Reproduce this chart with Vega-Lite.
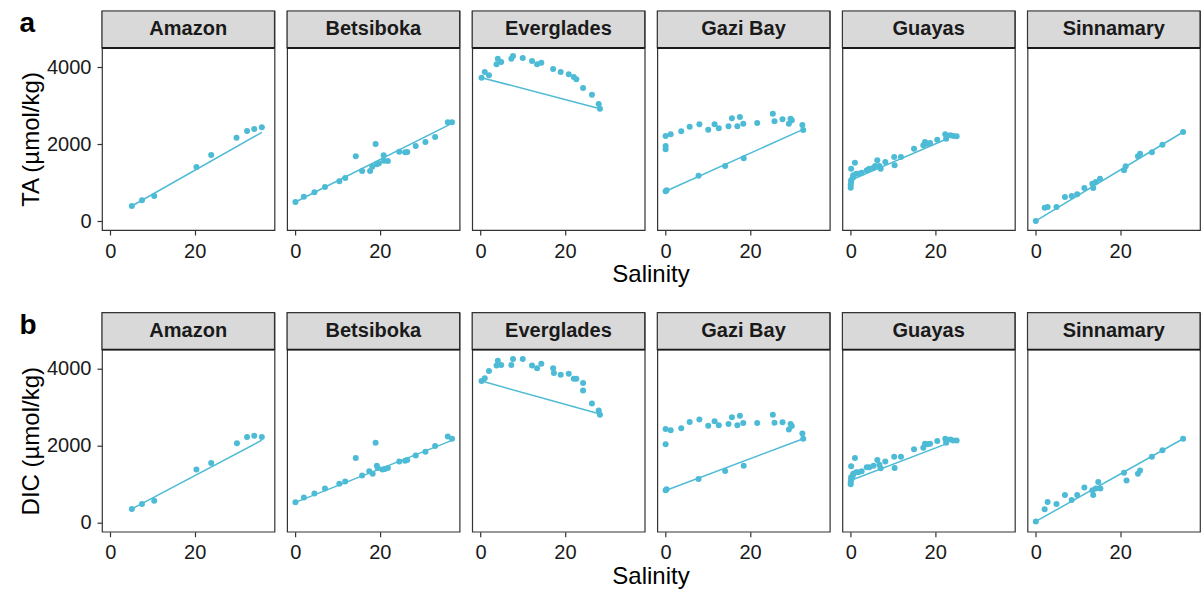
{
  "$schema": "https://vega.github.io/schema/vega-lite/v6.json",
  "padding": {"left": 19, "top": 9, "right": 0, "bottom": 0},
  "config": {
    "font": "Liberation Sans",
    "view": {"stroke": "#333333", "strokeWidth": 1.2},
    "axis": {"labelFontSize": 20, "labelColor": "#1a1a1a", "tickColor": "#333333", "tickSize": 5, "tickWidth": 1.2, "domain": false, "grid": false, "labelPadding": 6, "titleFontSize": 24, "titleFontWeight": "normal", "titleColor": "#000000"},
    "header": {"titleFontSize": 24, "titleFontWeight": "normal", "titleColor": "#000000", "titlePadding": -8}
  },
  "spacing": 23.7,
  "datasets": {
    "rows": [
      {"p":"TA","site":"Amazon","k":"obs","s":5.1,"v":397},
      {"p":"TA","site":"Amazon","k":"obs","s":7.5,"v":545},
      {"p":"TA","site":"Amazon","k":"obs","s":10.4,"v":657},
      {"p":"TA","site":"Amazon","k":"obs","s":20.4,"v":1410},
      {"p":"TA","site":"Amazon","k":"obs","s":23.9,"v":1722},
      {"p":"TA","site":"Amazon","k":"obs","s":29.9,"v":2171},
      {"p":"TA","site":"Amazon","k":"obs","s":32.4,"v":2345},
      {"p":"TA","site":"Amazon","k":"obs","s":34.1,"v":2397},
      {"p":"TA","site":"Amazon","k":"obs","s":35.9,"v":2442},
      {"p":"TA","site":"Amazon","k":"mix","s":5.1,"v":397},
      {"p":"TA","site":"Amazon","k":"mix","s":35.9,"v":2310},

      {"p":"TA","site":"Betsiboka","k":"obs","s":0,"v":501},
      {"p":"TA","site":"Betsiboka","k":"obs","s":2.0,"v":639},
      {"p":"TA","site":"Betsiboka","k":"obs","s":4.5,"v":753},
      {"p":"TA","site":"Betsiboka","k":"obs","s":7.0,"v":891},
      {"p":"TA","site":"Betsiboka","k":"obs","s":10.4,"v":1039},
      {"p":"TA","site":"Betsiboka","k":"obs","s":11.8,"v":1125},
      {"p":"TA","site":"Betsiboka","k":"obs","s":14.3,"v":1688},
      {"p":"TA","site":"Betsiboka","k":"obs","s":15.8,"v":1306},
      {"p":"TA","site":"Betsiboka","k":"obs","s":17.7,"v":1306},
      {"p":"TA","site":"Betsiboka","k":"obs","s":19.0,"v":2008},
      {"p":"TA","site":"Betsiboka","k":"obs","s":18.2,"v":1418},
      {"p":"TA","site":"Betsiboka","k":"obs","s":19.3,"v":1480},
      {"p":"TA","site":"Betsiboka","k":"obs","s":19.8,"v":1506},
      {"p":"TA","site":"Betsiboka","k":"obs","s":20.9,"v":1714},
      {"p":"TA","site":"Betsiboka","k":"obs","s":21.0,"v":1574},
      {"p":"TA","site":"Betsiboka","k":"obs","s":21.9,"v":1566},
      {"p":"TA","site":"Betsiboka","k":"obs","s":24.6,"v":1808},
      {"p":"TA","site":"Betsiboka","k":"obs","s":26.0,"v":1792},
      {"p":"TA","site":"Betsiboka","k":"obs","s":26.5,"v":1800},
      {"p":"TA","site":"Betsiboka","k":"obs","s":28.5,"v":1956},
      {"p":"TA","site":"Betsiboka","k":"obs","s":30.8,"v":2060},
      {"p":"TA","site":"Betsiboka","k":"obs","s":33.1,"v":2190},
      {"p":"TA","site":"Betsiboka","k":"obs","s":36.1,"v":2571},
      {"p":"TA","site":"Betsiboka","k":"obs","s":37.1,"v":2571},
      {"p":"TA","site":"Betsiboka","k":"mix","s":0,"v":501},
      {"p":"TA","site":"Betsiboka","k":"mix","s":36.5,"v":2510},

      {"p":"TA","site":"Everglades","k":"obs","s":0.24,"v":3730},
      {"p":"TA","site":"Everglades","k":"obs","s":1.0,"v":3878},
      {"p":"TA","site":"Everglades","k":"obs","s":2.0,"v":3792},
      {"p":"TA","site":"Everglades","k":"obs","s":3.8,"v":4078},
      {"p":"TA","site":"Everglades","k":"obs","s":4.1,"v":4224},
      {"p":"TA","site":"Everglades","k":"obs","s":4.9,"v":4138},
      {"p":"TA","site":"Everglades","k":"obs","s":7.3,"v":4224},
      {"p":"TA","site":"Everglades","k":"obs","s":7.7,"v":4294},
      {"p":"TA","site":"Everglades","k":"obs","s":10.0,"v":4242},
      {"p":"TA","site":"Everglades","k":"obs","s":12.2,"v":4164},
      {"p":"TA","site":"Everglades","k":"obs","s":13.4,"v":4078},
      {"p":"TA","site":"Everglades","k":"obs","s":14.4,"v":4120},
      {"p":"TA","site":"Everglades","k":"obs","s":17.2,"v":3956},
      {"p":"TA","site":"Everglades","k":"obs","s":19.0,"v":3878},
      {"p":"TA","site":"Everglades","k":"obs","s":20.9,"v":3818},
      {"p":"TA","site":"Everglades","k":"obs","s":22.1,"v":3748},
      {"p":"TA","site":"Everglades","k":"obs","s":22.7,"v":3688},
      {"p":"TA","site":"Everglades","k":"obs","s":24.3,"v":3462},
      {"p":"TA","site":"Everglades","k":"obs","s":26.4,"v":3288},
      {"p":"TA","site":"Everglades","k":"obs","s":28.0,"v":3047},
      {"p":"TA","site":"Everglades","k":"obs","s":28.3,"v":2925},
      {"p":"TA","site":"Everglades","k":"mix","s":0.24,"v":3730},
      {"p":"TA","site":"Everglades","k":"mix","s":28.3,"v":2925},

      {"p":"TA","site":"Gazi Bay","k":"obs","s":0,"v":2216},
      {"p":"TA","site":"Gazi Bay","k":"obs","s":1.2,"v":2260},
      {"p":"TA","site":"Gazi Bay","k":"obs","s":0,"v":1956},
      {"p":"TA","site":"Gazi Bay","k":"obs","s":0,"v":1870},
      {"p":"TA","site":"Gazi Bay","k":"obs","s":3.7,"v":2338},
      {"p":"TA","site":"Gazi Bay","k":"obs","s":5.7,"v":2458},
      {"p":"TA","site":"Gazi Bay","k":"obs","s":8.0,"v":2519},
      {"p":"TA","site":"Gazi Bay","k":"obs","s":10.1,"v":2380},
      {"p":"TA","site":"Gazi Bay","k":"obs","s":11.6,"v":2519},
      {"p":"TA","site":"Gazi Bay","k":"obs","s":12.6,"v":2416},
      {"p":"TA","site":"Gazi Bay","k":"obs","s":14.9,"v":2468},
      {"p":"TA","site":"Gazi Bay","k":"obs","s":15.7,"v":2675},
      {"p":"TA","site":"Gazi Bay","k":"obs","s":17.0,"v":2468},
      {"p":"TA","site":"Gazi Bay","k":"obs","s":17.6,"v":2709},
      {"p":"TA","site":"Gazi Bay","k":"obs","s":18.4,"v":2535},
      {"p":"TA","site":"Gazi Bay","k":"obs","s":21.7,"v":2553},
      {"p":"TA","site":"Gazi Bay","k":"obs","s":25.4,"v":2795},
      {"p":"TA","site":"Gazi Bay","k":"obs","s":25.8,"v":2597},
      {"p":"TA","site":"Gazi Bay","k":"obs","s":27.7,"v":2649},
      {"p":"TA","site":"Gazi Bay","k":"obs","s":29.2,"v":2535},
      {"p":"TA","site":"Gazi Bay","k":"obs","s":29.6,"v":2665},
      {"p":"TA","site":"Gazi Bay","k":"obs","s":29.9,"v":2623},
      {"p":"TA","site":"Gazi Bay","k":"obs","s":32.4,"v":2501},
      {"p":"TA","site":"Gazi Bay","k":"obs","s":32.6,"v":2371},
      {"p":"TA","site":"Gazi Bay","k":"obs","s":0,"v":779},
      {"p":"TA","site":"Gazi Bay","k":"obs","s":0.24,"v":805},
      {"p":"TA","site":"Gazi Bay","k":"obs","s":7.8,"v":1184},
      {"p":"TA","site":"Gazi Bay","k":"obs","s":14.1,"v":1436},
      {"p":"TA","site":"Gazi Bay","k":"obs","s":18.5,"v":1636},
      {"p":"TA","site":"Gazi Bay","k":"mix","s":0,"v":780},
      {"p":"TA","site":"Gazi Bay","k":"mix","s":32.6,"v":2386},

      {"p":"TA","site":"Guayas","k":"obs","s":0,"v":873},
      {"p":"TA","site":"Guayas","k":"obs","s":0,"v":951},
      {"p":"TA","site":"Guayas","k":"obs","s":0.1,"v":1021},
      {"p":"TA","site":"Guayas","k":"obs","s":0.1,"v":1065},
      {"p":"TA","site":"Guayas","k":"obs","s":0.5,"v":1134},
      {"p":"TA","site":"Guayas","k":"obs","s":0.1,"v":1366},
      {"p":"TA","site":"Guayas","k":"obs","s":1.0,"v":1522},
      {"p":"TA","site":"Guayas","k":"obs","s":1.3,"v":1236},
      {"p":"TA","site":"Guayas","k":"obs","s":1.8,"v":1236},
      {"p":"TA","site":"Guayas","k":"obs","s":2.6,"v":1262},
      {"p":"TA","site":"Guayas","k":"obs","s":3.8,"v":1325},
      {"p":"TA","site":"Guayas","k":"obs","s":5.4,"v":1392},
      {"p":"TA","site":"Guayas","k":"obs","s":6.3,"v":1584},
      {"p":"TA","site":"Guayas","k":"obs","s":6.8,"v":1436},
      {"p":"TA","site":"Guayas","k":"obs","s":7.1,"v":1366},
      {"p":"TA","site":"Guayas","k":"obs","s":8.2,"v":1540},
      {"p":"TA","site":"Guayas","k":"obs","s":10.3,"v":1670},
      {"p":"TA","site":"Guayas","k":"obs","s":10.4,"v":1454},
      {"p":"TA","site":"Guayas","k":"obs","s":11.9,"v":1670},
      {"p":"TA","site":"Guayas","k":"obs","s":15.0,"v":1886},
      {"p":"TA","site":"Guayas","k":"obs","s":17.2,"v":1974},
      {"p":"TA","site":"Guayas","k":"obs","s":17.6,"v":2060},
      {"p":"TA","site":"Guayas","k":"obs","s":18.2,"v":2016},
      {"p":"TA","site":"Guayas","k":"obs","s":18.8,"v":2034},
      {"p":"TA","site":"Guayas","k":"obs","s":20.5,"v":2120},
      {"p":"TA","site":"Guayas","k":"obs","s":22.4,"v":2260},
      {"p":"TA","site":"Guayas","k":"obs","s":22.6,"v":2146},
      {"p":"TA","site":"Guayas","k":"obs","s":23.6,"v":2234},
      {"p":"TA","site":"Guayas","k":"obs","s":24.3,"v":2216},
      {"p":"TA","site":"Guayas","k":"obs","s":25.1,"v":2208},
      {"p":"TA","site":"Guayas","k":"obs","s":0.6,"v":1195},
      {"p":"TA","site":"Guayas","k":"obs","s":4.4,"v":1366},
      {"p":"TA","site":"Guayas","k":"obs","s":5.8,"v":1436},
      {"p":"TA","site":"Guayas","k":"mix","s":0.1,"v":1070},
      {"p":"TA","site":"Guayas","k":"mix","s":22.6,"v":2130},

      {"p":"TA","site":"Sinnamary","k":"obs","s":0,"v":10},
      {"p":"TA","site":"Sinnamary","k":"obs","s":2.1,"v":353},
      {"p":"TA","site":"Sinnamary","k":"obs","s":2.8,"v":371},
      {"p":"TA","site":"Sinnamary","k":"obs","s":4.9,"v":371},
      {"p":"TA","site":"Sinnamary","k":"obs","s":6.9,"v":631},
      {"p":"TA","site":"Sinnamary","k":"obs","s":8.5,"v":657},
      {"p":"TA","site":"Sinnamary","k":"obs","s":9.8,"v":701},
      {"p":"TA","site":"Sinnamary","k":"obs","s":11.5,"v":865},
      {"p":"TA","site":"Sinnamary","k":"obs","s":13.6,"v":865},
      {"p":"TA","site":"Sinnamary","k":"obs","s":13.4,"v":977},
      {"p":"TA","site":"Sinnamary","k":"obs","s":14.2,"v":1021},
      {"p":"TA","site":"Sinnamary","k":"obs","s":15.2,"v":1106},
      {"p":"TA","site":"Sinnamary","k":"obs","s":20.9,"v":1325},
      {"p":"TA","site":"Sinnamary","k":"obs","s":21.3,"v":1428},
      {"p":"TA","site":"Sinnamary","k":"obs","s":24.2,"v":1688},
      {"p":"TA","site":"Sinnamary","k":"obs","s":24.7,"v":1756},
      {"p":"TA","site":"Sinnamary","k":"obs","s":27.5,"v":1792},
      {"p":"TA","site":"Sinnamary","k":"obs","s":30.0,"v":1990},
      {"p":"TA","site":"Sinnamary","k":"obs","s":34.9,"v":2319},
      {"p":"TA","site":"Sinnamary","k":"mix","s":0,"v":10},
      {"p":"TA","site":"Sinnamary","k":"mix","s":34.9,"v":2319},

      {"p":"DIC","site":"Amazon","k":"obs","s":5.1,"v":365},
      {"p":"DIC","site":"Amazon","k":"obs","s":7.5,"v":493},
      {"p":"DIC","site":"Amazon","k":"obs","s":10.4,"v":577},
      {"p":"DIC","site":"Amazon","k":"obs","s":20.4,"v":1387},
      {"p":"DIC","site":"Amazon","k":"obs","s":23.9,"v":1558},
      {"p":"DIC","site":"Amazon","k":"obs","s":30.0,"v":2069},
      {"p":"DIC","site":"Amazon","k":"obs","s":32.4,"v":2230},
      {"p":"DIC","site":"Amazon","k":"obs","s":34.1,"v":2263},
      {"p":"DIC","site":"Amazon","k":"obs","s":35.9,"v":2230},
      {"p":"DIC","site":"Amazon","k":"mix","s":5.1,"v":365},
      {"p":"DIC","site":"Amazon","k":"mix","s":35.9,"v":2150},

      {"p":"DIC","site":"Betsiboka","k":"obs","s":0,"v":536},
      {"p":"DIC","site":"Betsiboka","k":"obs","s":2.0,"v":664},
      {"p":"DIC","site":"Betsiboka","k":"obs","s":4.5,"v":766},
      {"p":"DIC","site":"Betsiboka","k":"obs","s":7.0,"v":894},
      {"p":"DIC","site":"Betsiboka","k":"obs","s":10.4,"v":1022},
      {"p":"DIC","site":"Betsiboka","k":"obs","s":11.8,"v":1080},
      {"p":"DIC","site":"Betsiboka","k":"obs","s":14.3,"v":1686},
      {"p":"DIC","site":"Betsiboka","k":"obs","s":15.8,"v":1234},
      {"p":"DIC","site":"Betsiboka","k":"obs","s":17.5,"v":1344},
      {"p":"DIC","site":"Betsiboka","k":"obs","s":18.3,"v":1277},
      {"p":"DIC","site":"Betsiboka","k":"obs","s":19.0,"v":2084},
      {"p":"DIC","site":"Betsiboka","k":"obs","s":19.3,"v":1489},
      {"p":"DIC","site":"Betsiboka","k":"obs","s":19.5,"v":1430},
      {"p":"DIC","site":"Betsiboka","k":"obs","s":20.6,"v":1387},
      {"p":"DIC","site":"Betsiboka","k":"obs","s":21.2,"v":1405},
      {"p":"DIC","site":"Betsiboka","k":"obs","s":21.9,"v":1430},
      {"p":"DIC","site":"Betsiboka","k":"obs","s":24.6,"v":1599},
      {"p":"DIC","site":"Betsiboka","k":"obs","s":26.0,"v":1617},
      {"p":"DIC","site":"Betsiboka","k":"obs","s":26.5,"v":1635},
      {"p":"DIC","site":"Betsiboka","k":"obs","s":28.5,"v":1752},
      {"p":"DIC","site":"Betsiboka","k":"obs","s":30.8,"v":1847},
      {"p":"DIC","site":"Betsiboka","k":"obs","s":33.1,"v":2000},
      {"p":"DIC","site":"Betsiboka","k":"obs","s":36.1,"v":2248},
      {"p":"DIC","site":"Betsiboka","k":"obs","s":37.1,"v":2186},
      {"p":"DIC","site":"Betsiboka","k":"mix","s":0,"v":536},
      {"p":"DIC","site":"Betsiboka","k":"mix","s":37.1,"v":2146},

      {"p":"DIC","site":"Everglades","k":"obs","s":0.24,"v":3686},
      {"p":"DIC","site":"Everglades","k":"obs","s":1.0,"v":3762},
      {"p":"DIC","site":"Everglades","k":"obs","s":2.0,"v":3950},
      {"p":"DIC","site":"Everglades","k":"obs","s":3.8,"v":4087},
      {"p":"DIC","site":"Everglades","k":"obs","s":4.1,"v":4215},
      {"p":"DIC","site":"Everglades","k":"obs","s":4.9,"v":4103},
      {"p":"DIC","site":"Everglades","k":"obs","s":7.3,"v":4103},
      {"p":"DIC","site":"Everglades","k":"obs","s":7.7,"v":4256},
      {"p":"DIC","site":"Everglades","k":"obs","s":10.0,"v":4256},
      {"p":"DIC","site":"Everglades","k":"obs","s":12.2,"v":4087},
      {"p":"DIC","site":"Everglades","k":"obs","s":13.4,"v":4018},
      {"p":"DIC","site":"Everglades","k":"obs","s":14.4,"v":4137},
      {"p":"DIC","site":"Everglades","k":"obs","s":17.2,"v":4018},
      {"p":"DIC","site":"Everglades","k":"obs","s":17.4,"v":3898},
      {"p":"DIC","site":"Everglades","k":"obs","s":19.0,"v":3847},
      {"p":"DIC","site":"Everglades","k":"obs","s":20.9,"v":3873},
      {"p":"DIC","site":"Everglades","k":"obs","s":22.1,"v":3745},
      {"p":"DIC","site":"Everglades","k":"obs","s":22.7,"v":3745},
      {"p":"DIC","site":"Everglades","k":"obs","s":24.3,"v":3635},
      {"p":"DIC","site":"Everglades","k":"obs","s":24.3,"v":3439},
      {"p":"DIC","site":"Everglades","k":"obs","s":26.4,"v":3106},
      {"p":"DIC","site":"Everglades","k":"obs","s":28.0,"v":2920},
      {"p":"DIC","site":"Everglades","k":"obs","s":28.3,"v":2810},
      {"p":"DIC","site":"Everglades","k":"mix","s":0.24,"v":3686},
      {"p":"DIC","site":"Everglades","k":"mix","s":28.3,"v":2830},

      {"p":"DIC","site":"Gazi Bay","k":"obs","s":0,"v":2443},
      {"p":"DIC","site":"Gazi Bay","k":"obs","s":1.2,"v":2409},
      {"p":"DIC","site":"Gazi Bay","k":"obs","s":0,"v":2043},
      {"p":"DIC","site":"Gazi Bay","k":"obs","s":3.7,"v":2460},
      {"p":"DIC","site":"Gazi Bay","k":"obs","s":5.7,"v":2622},
      {"p":"DIC","site":"Gazi Bay","k":"obs","s":8.0,"v":2690},
      {"p":"DIC","site":"Gazi Bay","k":"obs","s":10.1,"v":2528},
      {"p":"DIC","site":"Gazi Bay","k":"obs","s":11.6,"v":2639},
      {"p":"DIC","site":"Gazi Bay","k":"obs","s":12.6,"v":2536},
      {"p":"DIC","site":"Gazi Bay","k":"obs","s":14.9,"v":2570},
      {"p":"DIC","site":"Gazi Bay","k":"obs","s":15.7,"v":2749},
      {"p":"DIC","site":"Gazi Bay","k":"obs","s":17.0,"v":2536},
      {"p":"DIC","site":"Gazi Bay","k":"obs","s":17.6,"v":2783},
      {"p":"DIC","site":"Gazi Bay","k":"obs","s":18.4,"v":2596},
      {"p":"DIC","site":"Gazi Bay","k":"obs","s":21.7,"v":2596},
      {"p":"DIC","site":"Gazi Bay","k":"obs","s":25.4,"v":2809},
      {"p":"DIC","site":"Gazi Bay","k":"obs","s":25.8,"v":2604},
      {"p":"DIC","site":"Gazi Bay","k":"obs","s":27.7,"v":2613},
      {"p":"DIC","site":"Gazi Bay","k":"obs","s":29.2,"v":2426},
      {"p":"DIC","site":"Gazi Bay","k":"obs","s":29.6,"v":2570},
      {"p":"DIC","site":"Gazi Bay","k":"obs","s":29.9,"v":2519},
      {"p":"DIC","site":"Gazi Bay","k":"obs","s":32.4,"v":2324},
      {"p":"DIC","site":"Gazi Bay","k":"obs","s":32.6,"v":2187},
      {"p":"DIC","site":"Gazi Bay","k":"obs","s":0,"v":851},
      {"p":"DIC","site":"Gazi Bay","k":"obs","s":0.24,"v":877},
      {"p":"DIC","site":"Gazi Bay","k":"obs","s":7.8,"v":1140},
      {"p":"DIC","site":"Gazi Bay","k":"obs","s":14.1,"v":1353},
      {"p":"DIC","site":"Gazi Bay","k":"obs","s":18.5,"v":1489},
      {"p":"DIC","site":"Gazi Bay","k":"mix","s":0,"v":845},
      {"p":"DIC","site":"Gazi Bay","k":"mix","s":32.6,"v":2187},

      {"p":"DIC","site":"Guayas","k":"obs","s":0,"v":1004},
      {"p":"DIC","site":"Guayas","k":"obs","s":0,"v":1063},
      {"p":"DIC","site":"Guayas","k":"obs","s":0.1,"v":1132},
      {"p":"DIC","site":"Guayas","k":"obs","s":0.1,"v":1191},
      {"p":"DIC","site":"Guayas","k":"obs","s":0.5,"v":1234},
      {"p":"DIC","site":"Guayas","k":"obs","s":0.1,"v":1472},
      {"p":"DIC","site":"Guayas","k":"obs","s":1.0,"v":1686},
      {"p":"DIC","site":"Guayas","k":"obs","s":1.3,"v":1319},
      {"p":"DIC","site":"Guayas","k":"obs","s":1.8,"v":1319},
      {"p":"DIC","site":"Guayas","k":"obs","s":2.6,"v":1345},
      {"p":"DIC","site":"Guayas","k":"obs","s":3.8,"v":1447},
      {"p":"DIC","site":"Guayas","k":"obs","s":5.4,"v":1489},
      {"p":"DIC","site":"Guayas","k":"obs","s":6.3,"v":1634},
      {"p":"DIC","site":"Guayas","k":"obs","s":6.8,"v":1515},
      {"p":"DIC","site":"Guayas","k":"obs","s":7.1,"v":1421},
      {"p":"DIC","site":"Guayas","k":"obs","s":8.2,"v":1600},
      {"p":"DIC","site":"Guayas","k":"obs","s":10.3,"v":1720},
      {"p":"DIC","site":"Guayas","k":"obs","s":10.4,"v":1430},
      {"p":"DIC","site":"Guayas","k":"obs","s":11.9,"v":1720},
      {"p":"DIC","site":"Guayas","k":"obs","s":15.0,"v":1915},
      {"p":"DIC","site":"Guayas","k":"obs","s":17.2,"v":1957},
      {"p":"DIC","site":"Guayas","k":"obs","s":17.6,"v":2059},
      {"p":"DIC","site":"Guayas","k":"obs","s":18.2,"v":2043},
      {"p":"DIC","site":"Guayas","k":"obs","s":18.8,"v":2059},
      {"p":"DIC","site":"Guayas","k":"obs","s":20.5,"v":2128},
      {"p":"DIC","site":"Guayas","k":"obs","s":22.4,"v":2187},
      {"p":"DIC","site":"Guayas","k":"obs","s":22.6,"v":2084},
      {"p":"DIC","site":"Guayas","k":"obs","s":23.6,"v":2170},
      {"p":"DIC","site":"Guayas","k":"obs","s":24.3,"v":2145},
      {"p":"DIC","site":"Guayas","k":"obs","s":25.1,"v":2145},
      {"p":"DIC","site":"Guayas","k":"obs","s":0.6,"v":1277},
      {"p":"DIC","site":"Guayas","k":"obs","s":4.4,"v":1447},
      {"p":"DIC","site":"Guayas","k":"mix","s":0.1,"v":1110},
      {"p":"DIC","site":"Guayas","k":"mix","s":22.8,"v":2060},

      {"p":"DIC","site":"Sinnamary","k":"obs","s":0,"v":41},
      {"p":"DIC","site":"Sinnamary","k":"obs","s":2.1,"v":358},
      {"p":"DIC","site":"Sinnamary","k":"obs","s":2.8,"v":545},
      {"p":"DIC","site":"Sinnamary","k":"obs","s":4.9,"v":494},
      {"p":"DIC","site":"Sinnamary","k":"obs","s":6.9,"v":724},
      {"p":"DIC","site":"Sinnamary","k":"obs","s":8.5,"v":596},
      {"p":"DIC","site":"Sinnamary","k":"obs","s":9.8,"v":724},
      {"p":"DIC","site":"Sinnamary","k":"obs","s":11.5,"v":919},
      {"p":"DIC","site":"Sinnamary","k":"obs","s":13.6,"v":724},
      {"p":"DIC","site":"Sinnamary","k":"obs","s":13.4,"v":851},
      {"p":"DIC","site":"Sinnamary","k":"obs","s":14.2,"v":894},
      {"p":"DIC","site":"Sinnamary","k":"obs","s":14.8,"v":1063},
      {"p":"DIC","site":"Sinnamary","k":"obs","s":15.3,"v":894},
      {"p":"DIC","site":"Sinnamary","k":"obs","s":20.9,"v":1302},
      {"p":"DIC","site":"Sinnamary","k":"obs","s":21.5,"v":1106},
      {"p":"DIC","site":"Sinnamary","k":"obs","s":24.2,"v":1277},
      {"p":"DIC","site":"Sinnamary","k":"obs","s":24.7,"v":1362},
      {"p":"DIC","site":"Sinnamary","k":"obs","s":27.5,"v":1719},
      {"p":"DIC","site":"Sinnamary","k":"obs","s":30.0,"v":1890},
      {"p":"DIC","site":"Sinnamary","k":"obs","s":34.9,"v":2187},
      {"p":"DIC","site":"Sinnamary","k":"mix","s":0,"v":41},
      {"p":"DIC","site":"Sinnamary","k":"mix","s":34.9,"v":2187}
    ]
  },
  "vconcat": [
    {
      "title": {"text": "a", "anchor": "start", "frame": "bounds", "fontSize": 28, "fontWeight": "bold", "color": "#000000", "offset": -28},
      "data": {"name": "rows"},
      "transform": [{"filter": "datum.p === 'TA'"}],
      "facet": {"column": {"field": "site", "type": "nominal", "title": "Salinity", "header": {"labels": false, "titleOrient": "bottom"}}},
      "spacing": 12.1,
      "bounds": "flush",
      "spec": {
        "width": 172.5,
        "height": 219,
        "layer": [
          {
            "transform": [{"filter": "datum.k === 'mix'"}],
            "mark": {"type": "line", "color": "#4DBBD5", "strokeWidth": 1.5},
            "encoding": {
              "x": {"field": "s", "type": "quantitative", "scale": {"domain": [-1.97, 38.9], "nice": false, "zero": false}, "axis": {"values": [0, 20], "title": null, "format": "d"}},
              "y": {"field": "v", "type": "quantitative", "scale": {"domain": [-226, 5461], "nice": false, "zero": false}, "axis": {"values": [0, 2000, 4000], "format": "d", "title": "TA (µmol/kg)", "titleY": 128, "titlePadding": 3}}
            }
          },
          {
            "transform": [{"filter": "datum.k === 'obs'"}],
            "mark": {"type": "circle", "color": "#4DBBD5", "opacity": 1, "size": 36},
            "encoding": {
              "x": {"field": "s", "type": "quantitative"},
              "y": {"field": "v", "type": "quantitative"}
            }
          },
          {
            "transform": [{"aggregate": [{"op": "count", "as": "n"}], "groupby": ["site"]}],
            "mark": {"type": "rect", "fill": "#d9d9d9", "stroke": "#333333", "strokeWidth": 1.2},
            "encoding": {"y": {"datum": 4500, "type": "quantitative"}, "y2": {"datum": 5461}}
          },
          {
            "transform": [{"aggregate": [{"op": "count", "as": "n"}], "groupby": ["site"]}],
            "mark": {"type": "rule", "color": "#1a1a1a", "strokeWidth": 1.8},
            "encoding": {"y": {"datum": 4500, "type": "quantitative"}}
          },
          {
            "transform": [{"aggregate": [{"op": "count", "as": "n"}], "groupby": ["site"]}],
            "mark": {"type": "text", "fontSize": 20, "fontWeight": "bold", "color": "#1a1a1a", "baseline": "middle", "align": "center"},
            "encoding": {"y": {"datum": 4990, "type": "quantitative"}, "text": {"field": "site"}}
          }
        ]
      }
    },
    {
      "title": {"text": "b", "anchor": "start", "frame": "bounds", "fontSize": 28, "fontWeight": "bold", "color": "#000000", "offset": -28},
      "data": {"name": "rows"},
      "transform": [{"filter": "datum.p === 'DIC'"}],
      "facet": {"column": {"field": "site", "type": "nominal", "title": "Salinity", "header": {"labels": false, "titleOrient": "bottom"}}},
      "spacing": 12.1,
      "bounds": "flush",
      "spec": {
        "width": 172.5,
        "height": 219,
        "layer": [
          {
            "transform": [{"filter": "datum.k === 'mix'"}],
            "mark": {"type": "line", "color": "#4DBBD5", "strokeWidth": 1.5},
            "encoding": {
              "x": {"field": "s", "type": "quantitative", "scale": {"domain": [-1.97, 38.9], "nice": false, "zero": false}, "axis": {"values": [0, 20], "title": null, "format": "d"}},
              "y": {"field": "v", "type": "quantitative", "scale": {"domain": [-226, 5461], "nice": false, "zero": false}, "axis": {"values": [0, 2000, 4000], "format": "d", "title": "DIC (µmol/kg)", "titleY": 128, "titlePadding": 3}}
            }
          },
          {
            "transform": [{"filter": "datum.k === 'obs'"}],
            "mark": {"type": "circle", "color": "#4DBBD5", "opacity": 1, "size": 36},
            "encoding": {
              "x": {"field": "s", "type": "quantitative"},
              "y": {"field": "v", "type": "quantitative"}
            }
          },
          {
            "transform": [{"aggregate": [{"op": "count", "as": "n"}], "groupby": ["site"]}],
            "mark": {"type": "rect", "fill": "#d9d9d9", "stroke": "#333333", "strokeWidth": 1.2},
            "encoding": {"y": {"datum": 4500, "type": "quantitative"}, "y2": {"datum": 5461}}
          },
          {
            "transform": [{"aggregate": [{"op": "count", "as": "n"}], "groupby": ["site"]}],
            "mark": {"type": "rule", "color": "#1a1a1a", "strokeWidth": 1.8},
            "encoding": {"y": {"datum": 4500, "type": "quantitative"}}
          },
          {
            "transform": [{"aggregate": [{"op": "count", "as": "n"}], "groupby": ["site"]}],
            "mark": {"type": "text", "fontSize": 20, "fontWeight": "bold", "color": "#1a1a1a", "baseline": "middle", "align": "center"},
            "encoding": {"y": {"datum": 4990, "type": "quantitative"}, "text": {"field": "site"}}
          }
        ]
      }
    }
  ]
}
